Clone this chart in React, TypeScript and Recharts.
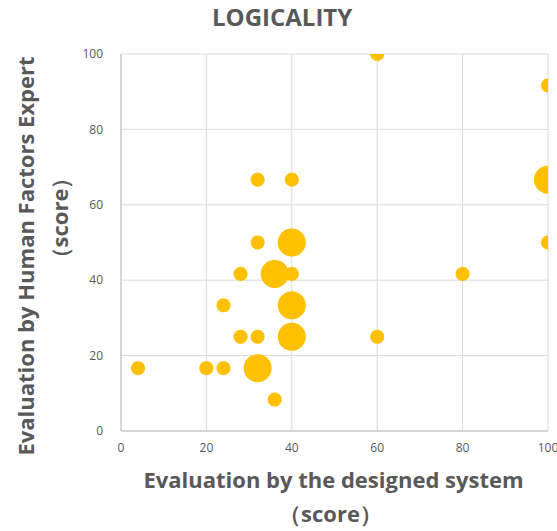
import {
  CartesianGrid,
  Label,
  Scatter,
  ScatterChart,
  XAxis,
  YAxis,
  ZAxis,
} from "recharts";

// x: evaluation by the designed system, y: evaluation by the expert, z: bubble weight
const xValues = [4, 20, 24, 32, 36, 28, 32, 40, 24, 40, 28, 36, 40, 32, 40, 32, 40, 60, 60, 80, 100, 100, 100];
const yValues = [16.67, 16.67, 16.67, 16.67, 8.33, 25, 25, 25, 33.33, 33.33, 41.67, 41.67, 41.67, 50, 50, 66.67, 66.67, 100, 25, 41.67, 91.67, 66.67, 50];
const zValues = [1, 1, 1, 4, 1, 1, 1, 4, 1, 4, 1, 4, 1, 1, 4, 1, 1, 1, 1, 1, 1, 4, 1];
const ticks = [0, 20, 40, 60, 80, 100];

const data = xValues.map((x, i) => ({ x, y: yValues[i], z: zValues[i] }));

const FONT = "'Open Sans', sans-serif";
const GREY = "#595959";

// chart box
const W = 557;
const H = 531;
const MARGIN = { top: 54, right: 9, bottom: 70, left: 0 };
const Y_AXIS_W = 121;
const X_AXIS_H = 30;
const PLOT = {
  x0: MARGIN.left + Y_AXIS_W,
  y0: MARGIN.top,
  x1: W - MARGIN.right,
  y1: H - MARGIN.bottom - X_AXIS_H,
};

// bubbles on the plot edge are cut off by the plot area, like the original.
// clip-path doesn't render here, so the circle outline is clamped to the plot box instead
const Bubble = (props: any) => {
  const { cx, cy, size, fill } = props;
  const r = Math.sqrt(size / Math.PI);
  const pts: string[] = [];
  const steps = 96;
  for (let i = 0; i < steps; i++) {
    const a = (i / steps) * Math.PI * 2;
    const px = Math.min(Math.max(cx + r * Math.cos(a), PLOT.x0), PLOT.x1);
    const py = Math.min(Math.max(cy + r * Math.sin(a), PLOT.y0), PLOT.y1);
    pts.push(`${px.toFixed(2)},${py.toFixed(2)}`);
  }
  return <polygon points={pts.join(" ")} fill={fill} />;
};

const XTitle = ({ viewBox }: any) => {
  const cx = viewBox.x + viewBox.width / 2 - 1;
  return (
    <g fontFamily={FONT} fontWeight={700} fontSize={22} fill={GREY} textAnchor="middle">
      <text x={cx} y={488}>Evaluation by the designed system</text>
      <text x={cx - 3} y={522}>（score）</text>
    </g>
  );
};

const YTitle = () => (
  <g fontFamily={FONT} fontWeight={700} fontSize={22} fill={GREY} textAnchor="middle">
    <text x={34} y={256} transform="rotate(-90 34 256)">Evaluation by Human Factors Expert</text>
    <text x={68} y={218} transform="rotate(-90 68 218)">（score）</text>
  </g>
);

export default function App() {
  return (
    <div style={{ position: "absolute", left: 0, top: 0, width: W, height: H, background: "#fff" }}>
      <div
        style={{
          position: "absolute",
          top: 0,
          left: 212,
          fontFamily: FONT,
          fontWeight: 700,
          fontSize: 24,
          color: GREY,
          whiteSpace: "nowrap",
        }}
      >
        LOGICALITY
      </div>
      <ScatterChart width={W} height={H} margin={MARGIN}>
        <CartesianGrid stroke="#d9d9d9" strokeWidth={1} />
        <XAxis
          type="number"
          dataKey="x"
          domain={[0, 100]}
          ticks={ticks}
          allowDataOverflow
          height={X_AXIS_H}
          axisLine={{ stroke: "#bfbfbf" }}
          tickLine={false}
          tick={{ fill: GREY, fontSize: 12, fontFamily: FONT }}
          tickMargin={6}
        >
          <Label content={XTitle} />
        </XAxis>
        <YAxis
          type="number"
          dataKey="y"
          domain={[0, 100]}
          ticks={ticks}
          allowDataOverflow
          width={Y_AXIS_W}
          axisLine={{ stroke: "#bfbfbf" }}
          tickLine={false}
          tick={{ fill: GREY, fontSize: 12, fontFamily: FONT }}
          tickMargin={12}
        >
          <Label content={YTitle} />
        </YAxis>
        <ZAxis type="number" dataKey="z" domain={[1, 4]} range={[154, 616]} />
        <Scatter data={data} fill="#FFC000" shape={Bubble} isAnimationActive={false} />
      </ScatterChart>
    </div>
  );
}
